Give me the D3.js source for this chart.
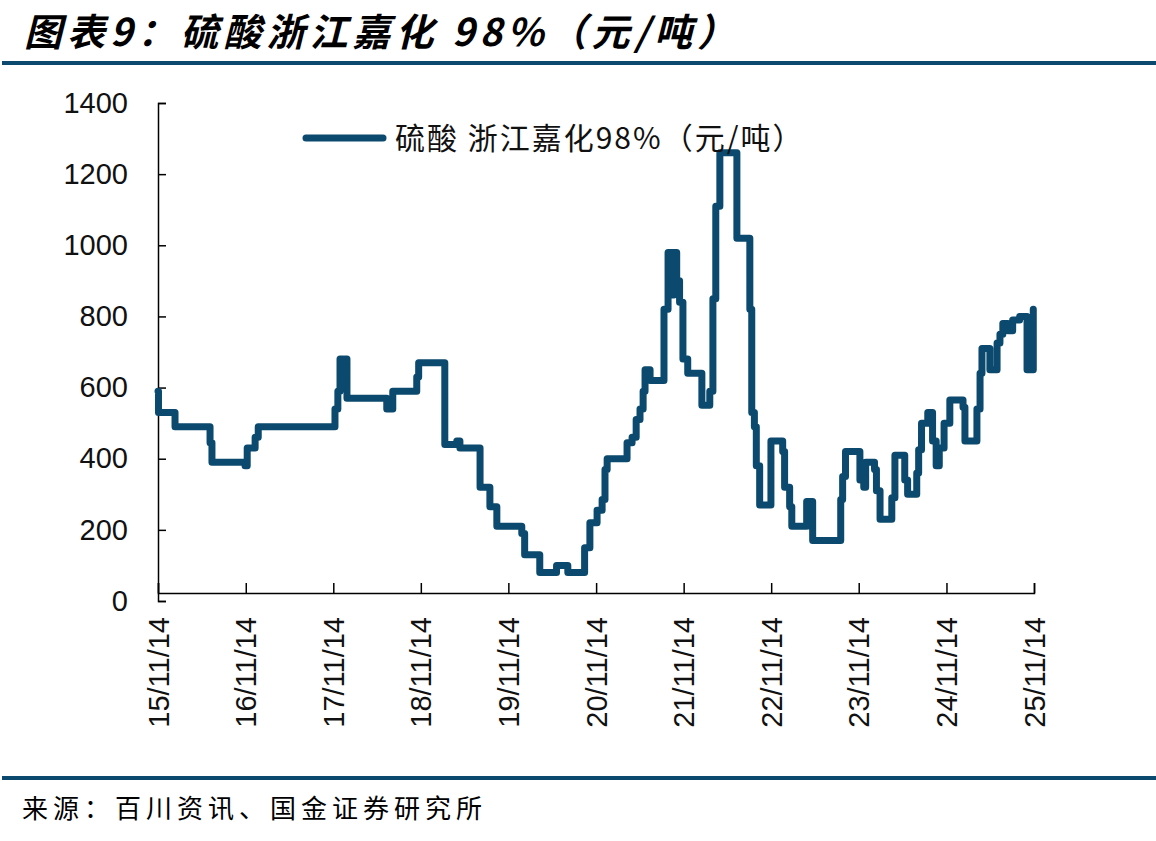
<!DOCTYPE html>
<html>
<head>
<meta charset="utf-8">
<script src="https://cdn.jsdelivr.net/npm/d3@7"></script>
<style>
  body { margin: 0; background: #fff; }
  svg { display: block; }
</style>
</head>
<body>
<div id="chart"></div>
<script>
// 硫酸 浙江嘉化98% 价格（元/吨）— 价格变动点
const dates = [
  "2015-11-14","2015-11-16","2016-01-24","2016-06-18","2016-06-26","2016-11-11","2016-11-20",
  "2016-12-23","2017-01-05","2017-11-21","2017-12-03","2017-12-12","2017-12-24","2018-01-01",
  "2018-01-10","2018-06-25","2018-07-20","2018-10-28","2018-11-05","2019-02-22","2019-04-13",
  "2019-04-26","2019-07-19","2019-08-29","2019-09-27","2020-01-09","2020-01-21","2020-03-24",
  "2020-06-02","2020-07-19","2020-09-27","2020-10-19","2020-11-18","2020-12-09","2020-12-21",
  "2020-12-30","2021-03-23","2021-04-13","2021-04-30","2021-05-16","2021-05-29","2021-06-06",
  "2021-06-27","2021-08-24","2021-09-10","2021-09-27","2021-10-04","2021-10-16","2021-10-28",
  "2021-11-11","2021-12-01","2022-01-29","2022-03-03","2022-03-16","2022-03-28","2022-04-14",
  "2022-06-24","2022-08-17","2022-08-25","2022-09-05","2022-09-13","2022-09-27","2022-11-13",
  "2023-01-01","2023-01-09","2023-01-30","2023-02-08","2023-04-11","2023-05-06","2023-08-31",
  "2023-09-08","2023-09-20","2023-11-19","2023-12-05","2023-12-13","2024-01-19","2024-01-27",
  "2024-02-11","2024-03-31","2024-04-13","2024-05-24","2024-06-05","2024-07-13","2024-07-21",
  "2024-08-02","2024-08-28","2024-09-17","2024-10-02","2024-10-15","2024-11-04","2024-11-28",
  "2025-01-22","2025-01-30","2025-03-21","2025-04-03","2025-04-11","2025-05-14","2025-06-13",
  "2025-06-25","2025-07-07","2025-07-28","2025-08-17","2025-09-15","2025-10-16","2025-11-11"
];
const prices = [
  590,530,490,445,390,380,430,
  460,490,540,590,680,600,680,
  570,540,590,630,670,440,450,
  430,320,265,210,190,130,80,
  100,80,150,220,255,285,370,
  400,445,460,510,540,590,650,
  620,820,980,860,980,900,840,
  680,640,550,590,850,1110,1260,
  1020,820,530,490,380,270,450,
  420,320,265,210,280,170,285,
  350,420,340,320,390,370,310,
  230,290,410,340,300,360,425,
  500,530,450,380,430,500,565,
  545,450,540,640,710,650,725,
  750,780,760,790,800,650,820
];
const yTicks = [0, 200, 400, 600, 800, 1000, 1200, 1400];
const xTickDates = ["2015-11-14","2016-11-14","2017-11-14","2018-11-14","2019-11-14","2020-11-14",
  "2021-11-14","2022-11-14","2023-11-14","2024-11-14","2025-11-14"];

const titleText = "图表9：硫酸浙江嘉化 98%（元/吨）";
const legendText = "硫酸 浙江嘉化98%（元/吨）";
const sourceText = "来源：百川资讯、国金证券研究所";

const width = 1156, height = 841;
const mainColor = "#0b4a6e";
const parse = d3.timeParse("%Y-%m-%d");
const fmt = d3.timeFormat("%y/%m/%d");

const data = dates.map((d, i) => ({ date: parse(d), value: prices[i] }));

const svg = d3.select("#chart").append("svg")
  .attr("width", width)
  .attr("height", height);

// タイトル
svg.append("text")
  .attr("x", 24).attr("y", 46)
  .style("font-family", "'Noto Sans CJK SC', sans-serif")
  .style("font-size", "38px")
  .style("font-weight", "bold")
  .style("font-style", "italic")
  .style("letter-spacing", "5px")
  .attr("fill", "#000")
  .text(titleText);

// 上下の罫線
svg.append("rect").attr("x", 2).attr("y", 61).attr("width", width - 2).attr("height", 4).attr("fill", mainColor);
svg.append("rect").attr("x", 2).attr("y", 776).attr("width", width - 2).attr("height", 4).attr("fill", mainColor);

// 出典
svg.append("text")
  .attr("x", 22).attr("y", 818)
  .style("font-family", "'Noto Sans CJK SC', sans-serif")
  .style("font-size", "26px")
  .style("letter-spacing", "5px")
  .attr("fill", "#000")
  .text(sourceText);

// スケール
const x = d3.scaleTime()
  .domain([parse(xTickDates[0]), parse(xTickDates[xTickDates.length - 1])])
  .range([158, 1034]);
const y = d3.scaleLinear().domain([0, 1400]).range([601, 103]);

// y軸
const yAxis = svg.append("g")
  .attr("transform", "translate(158,0)")
  .call(d3.axisLeft(y).tickValues(yTicks).tickSize(-8).tickPadding(30).tickFormat(d3.format("d")));
yAxis.selectAll("line, path").attr("stroke", "#000").attr("stroke-width", 1.5);
yAxis.selectAll("text")
  .style("font-family", "'Liberation Sans', Arial, sans-serif")
  .style("font-size", "29px")
  .attr("fill", "#111");

// x軸
const xAxis = svg.append("g")
  .attr("transform", "translate(0,593)")
  .call(d3.axisBottom(x).tickValues(xTickDates.map(parse)).tickSize(-10).tickSizeOuter(-10).tickFormat(fmt));
xAxis.selectAll("line, path").attr("stroke", "#000").attr("stroke-width", 1.5);
xAxis.selectAll("text")
  .style("font-family", "'Liberation Sans', Arial, sans-serif")
  .style("font-size", "29px")
  .attr("fill", "#111")
  .attr("text-anchor", "end")
  .attr("transform", "rotate(-90)")
  .attr("x", -24)
  .attr("y", 0)
  .attr("dy", "0.35em");

// 折れ線
const line = d3.line()
  .x(d => x(d.date))
  .y(d => y(d.value))
  .curve(d3.curveStepAfter);

svg.append("path")
  .datum(data)
  .attr("d", line)
  .attr("fill", "none")
  .attr("stroke", mainColor)
  .attr("stroke-width", 7)
  .attr("stroke-linejoin", "round")
  .attr("stroke-linecap", "round");

// 凡例
svg.append("line")
  .attr("x1", 306).attr("x2", 383)
  .attr("y1", 138).attr("y2", 138)
  .attr("stroke", mainColor)
  .attr("stroke-width", 7)
  .attr("stroke-linecap", "round");
svg.append("text")
  .attr("x", 395).attr("y", 149)
  .style("font-family", "'Noto Sans CJK SC', sans-serif")
  .style("font-size", "30px")
  .style("letter-spacing", "2px")
  .attr("fill", "#111")
  .text(legendText);
</script>
</body>
</html>
